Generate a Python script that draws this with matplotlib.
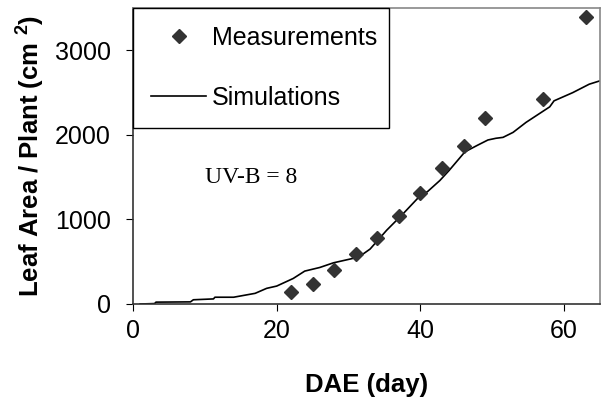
import matplotlib
matplotlib.use('Agg')
import matplotlib.pyplot as plt

plt.rcParams['font.family'] = 'Liberation Sans'
plt.rcParams['mathtext.fontset'] = 'custom'
plt.rcParams['mathtext.rm'] = 'Liberation Sans:bold'
plt.rcParams['mathtext.it'] = 'Liberation Sans:bold'

# measured leaf area
meas_day = [22, 25, 28, 31, 34, 37, 40, 43, 46, 49, 57, 63]
meas_area = [140, 235, 408, 589, 777, 1040, 1315, 1605, 1865, 2199, 2430, 3392]

# simulated leaf area
sim_day = [1, 3, 3.2, 8, 8.4, 11.2, 11.4, 14, 17, 18.6, 20, 22.3, 23.9, 26, 27.9,
           30.6, 32, 33, 35.3, 37.6, 40, 41, 42.7, 44, 46.2, 48, 49.4, 50.5, 51.5,
           52.9, 54.7, 58, 58.6, 61.2, 63.5, 65]
sim_area = [0, 5, 22, 25, 50, 60, 80, 80, 126, 185, 212, 302, 389, 432, 487,
            539, 590, 650, 872, 1068, 1284, 1330, 1460, 1580, 1800, 1880, 1940, 1960, 1971,
            2030, 2148, 2332, 2403, 2500, 2600, 2640]

fig = plt.figure(figsize=(6.04, 4.05), dpi=100)
ax = fig.add_axes([0.2202, 0.2494, 0.7732, 0.7306])

ax.plot(meas_day, meas_area, 'D', color='#333333', markersize=7, label='Measurements', zorder=3)
ax.plot(sim_day, sim_area, '-', color='black', linewidth=1.2, label='Simulations')

ax.set_xlim(0, 65)
ax.set_ylim(0, 3500)
ax.set_xticks([0, 20, 40, 60])
ax.set_yticks([0, 1000, 2000, 3000])
ax.tick_params(direction='out', length=5, labelsize=18)
ax.tick_params(axis='x', pad=6)
ax.tick_params(axis='y', pad=11)

ax.spines['left'].set_color('#333333')
ax.spines['bottom'].set_color('#333333')
ax.spines['top'].set_color('#888888')
ax.spines['right'].set_color('#888888')
for s in ax.spines.values():
    s.set_linewidth(1.2)

ax.set_xlabel('DAE (day)', fontsize=18.5, fontweight='bold')
ax.set_ylabel('Leaf Area / Plant (cm $^2$)', fontsize=18.5, fontweight='bold')
ax.xaxis.set_label_coords(0.5, -0.274)
ax.xaxis.label.set_va('center')
ax.yaxis.set_label_coords(-0.218, 0.5)
ax.yaxis.label.set_va('center')

ax.text(0.154, 0.429, 'UV-B = 8', transform=ax.transAxes, fontsize=17,
        family='Liberation Serif', va='center')

leg = ax.legend(loc='upper left', bbox_to_anchor=(0, 1, 0.548, 0), mode='expand',
                borderaxespad=0, fancybox=False, edgecolor='black', fontsize=18,
                handlelength=2.2, handletextpad=0.25, labelspacing=1.44, borderpad=0.72,
                framealpha=1)
leg.get_frame().set_linewidth(1.0)

fig.savefig('out.png', dpi=100)
